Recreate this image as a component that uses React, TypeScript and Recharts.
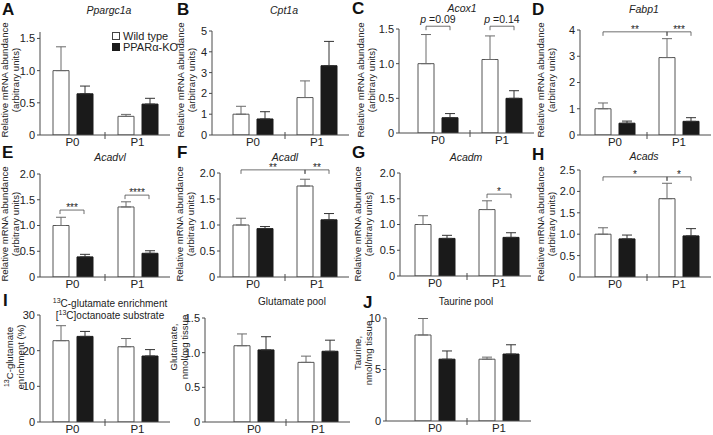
import React from 'react'
import { BarChart, Bar, XAxis, YAxis, ErrorBar, ReferenceLine } from 'recharts'

const FONT = '"Liberation Sans", Arial, Helvetica, sans-serif'
const INK = '#222'
const AXIS = '#4a4a4a'
const BAR = 16
const GAP = 8
const TOP_M = 26

const groups = ['P0', 'P1']

// A  Ppargc1a
const ppargc1aWT = [1.0, 0.29]
const ppargc1aWTSem = [0.37, 0.03]
const ppargc1aKO = [0.64, 0.48]
const ppargc1aKOSem = [0.12, 0.09]
const ppargc1aTicks = [0, 0.5, 1, 1.5]

// B  Cpt1a
const cpt1aWT = [1.0, 1.8]
const cpt1aWTSem = [0.38, 0.8]
const cpt1aKO = [0.77, 3.33]
const cpt1aKOSem = [0.35, 1.17]
const cpt1aTicks = [0, 1, 2, 3, 4, 5]

// C  Acox1
const acox1WT = [1.0, 1.06]
const acox1WTSem = [0.42, 0.34]
const acox1KO = [0.22, 0.5]
const acox1KOSem = [0.06, 0.11]
const acox1Ticks = [0, 0.5, 1, 1.5]

// D  Fabp1
const fabp1WT = [1.0, 2.95]
const fabp1WTSem = [0.22, 0.72]
const fabp1KO = [0.45, 0.52]
const fabp1KOSem = [0.08, 0.14]
const fabp1Ticks = [0, 1, 2, 3, 4]

// E  Acadvl
const acadvlWT = [1.0, 1.36]
const acadvlWTSem = [0.16, 0.1]
const acadvlKO = [0.39, 0.46]
const acadvlKOSem = [0.05, 0.05]

// F  Acadl
const acadlWT = [1.0, 1.75]
const acadlWTSem = [0.13, 0.13]
const acadlKO = [0.93, 1.1]
const acadlKOSem = [0.04, 0.12]

// G  Acadm
const acadmWT = [1.0, 1.29]
const acadmWTSem = [0.17, 0.17]
const acadmKO = [0.73, 0.75]
const acadmKOSem = [0.06, 0.09]

const twoTicks = [0, 0.5, 1, 1.5, 2]

// H  Acads
const acadsWT = [1.0, 1.83]
const acadsWTSem = [0.15, 0.36]
const acadsKO = [0.89, 0.96]
const acadsKOSem = [0.09, 0.17]
const acadsTicks = [0, 0.5, 1, 1.5, 2, 2.5]

// I  13C-glutamate enrichment
const enrichWT = [22.8, 21.1]
const enrichWTSem = [4.2, 2.3]
const enrichKO = [24.0, 18.5]
const enrichKOSem = [1.4, 1.8]
const enrichTicks = [0, 10, 20, 30]

// glutamate pool
const gluWT = [1.1, 0.86]
const gluWTSem = [0.17, 0.09]
const gluKO = [1.04, 1.02]
const gluKOSem = [0.19, 0.16]
const gluTicks = [0, 0.5, 1, 1.5]

// J  taurine pool
const taurineWT = [8.35, 6.0]
const taurineWTSem = [1.6, 0.2]
const taurineKO = [6.0, 6.5]
const taurineKOSem = [0.8, 0.9]
const taurineTicks = [0, 5, 10]

type Bracket = { from: string; to: string; y: number; text: string }

const acox1Brackets: Bracket[] = [
  { from: 'wt0', to: 'ko0', y: 1.54, text: 'p =0.09' },
  { from: 'wt1', to: 'ko1', y: 1.54, text: 'p =0.14' },
]
const fabp1Brackets: Bracket[] = [
  { from: 'wt0', to: 'wt1', y: 3.93, text: '**' },
  { from: 'wt1', to: 'ko1', y: 3.93, text: '***' },
]
const acadvlBrackets: Bracket[] = [
  { from: 'wt0', to: 'ko0', y: 1.3, text: '***' },
  { from: 'wt1', to: 'ko1', y: 1.59, text: '****' },
]
const acadlBrackets: Bracket[] = [
  { from: 'wt0', to: 'wt1', y: 2.06, text: '**' },
  { from: 'wt1', to: 'ko1', y: 2.06, text: '**' },
]
const acadmBrackets: Bracket[] = [{ from: 'wt1', to: 'ko1', y: 1.59, text: '*' }]
const acadsBrackets: Bracket[] = [
  { from: 'wt0', to: 'wt1', y: 2.34, text: '*' },
  { from: 'wt1', to: 'ko1', y: 2.34, text: '*' },
]

type PanelCfg = {
  wt: number[]
  wtSem: number[]
  ko: number[]
  koSem: number[]
  ticks: number[]
  dec: number
  yMax: number
  brackets: Bracket[]
  axisX: number
  padL: number
  plotW: number
  plotTop: number
  plotBottom: number
}

const panels: PanelCfg[] = [
  { wt: ppargc1aWT, wtSem: ppargc1aWTSem, ko: ppargc1aKO, koSem: ppargc1aKOSem, ticks: ppargc1aTicks, dec: 1, yMax: 1.6, brackets: [], axisX: 40, padL: 0, plotW: 130, plotTop: 32, plotBottom: 135 },
  { wt: cpt1aWT, wtSem: cpt1aWTSem, ko: cpt1aKO, koSem: cpt1aKOSem, ticks: cpt1aTicks, dec: 0, yMax: 5, brackets: [], axisX: 212, padL: 9, plotW: 137, plotTop: 31, plotBottom: 135 },
  { wt: acox1WT, wtSem: acox1WTSem, ko: acox1KO, koSem: acox1KOSem, ticks: acox1Ticks, dec: 1, yMax: 1.5, brackets: acox1Brackets, axisX: 399, padL: 7, plotW: 135, plotTop: 29, plotBottom: 133 },
  { wt: fabp1WT, wtSem: fabp1WTSem, ko: fabp1KO, koSem: fabp1KOSem, ticks: fabp1Ticks, dec: 0, yMax: 4, brackets: fabp1Brackets, axisX: 580, padL: 3, plotW: 131, plotTop: 30, plotBottom: 135 },
  { wt: acadvlWT, wtSem: acadvlWTSem, ko: acadvlKO, koSem: acadvlKOSem, ticks: twoTicks, dec: 1, yMax: 2, brackets: acadvlBrackets, axisX: 40, padL: 0, plotW: 130, plotTop: 174, plotBottom: 277 },
  { wt: acadlWT, wtSem: acadlWTSem, ko: acadlKO, koSem: acadlKOSem, ticks: twoTicks, dec: 1, yMax: 2, brackets: acadlBrackets, axisX: 220, padL: 1, plotW: 129, plotTop: 173, plotBottom: 277 },
  { wt: acadmWT, wtSem: acadmWTSem, ko: acadmKO, koSem: acadmKOSem, ticks: twoTicks, dec: 1, yMax: 2, brackets: acadmBrackets, axisX: 400, padL: 3, plotW: 131, plotTop: 173, plotBottom: 276 },
  { wt: acadsWT, wtSem: acadsWTSem, ko: acadsKO, koSem: acadsKOSem, ticks: acadsTicks, dec: 1, yMax: 2.5, brackets: acadsBrackets, axisX: 580, padL: 3, plotW: 131, plotTop: 170, plotBottom: 277 },
  { wt: enrichWT, wtSem: enrichWTSem, ko: enrichKO, koSem: enrichKOSem, ticks: enrichTicks, dec: 0, yMax: 30, brackets: [], axisX: 40, padL: 0, plotW: 130, plotTop: 315, plotBottom: 422 },
  { wt: gluWT, wtSem: gluWTSem, ko: gluKO, koSem: gluKOSem, ticks: gluTicks, dec: 1, yMax: 1.5, brackets: [], axisX: 205, padL: 17, plotW: 145, plotTop: 318, plotBottom: 422 },
  { wt: taurineWT, wtSem: taurineWTSem, ko: taurineKO, koSem: taurineKOSem, ticks: taurineTicks, dec: 0, yMax: 10, brackets: [], axisX: 386, padL: 17, plotW: 145, plotTop: 318, plotBottom: 421 },
]

function BracketText({ x, y, text }: { x: number; y: number; text: string }) {
  const isP = text.startsWith('p')
  return (
    <text
      x={x}
      y={isP ? y - 3 : y + 1}
      textAnchor="middle"
      fontSize={isP ? 10.5 : 10}
      fill={INK}
      stroke="none"
      fontFamily={FONT}
    >
      {isP ? (
        <>
          <tspan fontStyle="italic">p</tspan>
          {text.slice(1)}
        </>
      ) : (
        text
      )}
    </text>
  )
}

function Panel({ p }: { p: PanelCfg }) {
  const plotH = p.plotBottom - p.plotTop
  const data = groups.map((g, i) => ({
    g,
    wt: p.wt[i],
    ko: p.ko[i],
    wtErr: [0, p.wtSem[i]],
    koErr: [0, p.koSem[i]],
  }))
  // where a bar's centre sits, measured from the start of the P0 band
  const band = (p.plotW - p.padL) / 2
  const inner = Math.floor((band - (2 * BAR + GAP)) / 2)
  const barMid = (k: string) =>
    Number(k[2]) * band + inner + BAR / 2 + (k.startsWith('ko') ? BAR + GAP : 0)

  return (
    <div style={{ position: 'absolute', left: p.axisX - 40, top: p.plotTop - TOP_M }}>
      <BarChart
        width={40 + p.plotW + 3}
        height={TOP_M + plotH + 22}
        data={data}
        margin={{ top: TOP_M, right: 3, bottom: 0, left: 0 }}
        barSize={BAR}
        barGap={GAP}
      >
        <XAxis
          dataKey="g"
          interval={0}
          tickLine={false}
          axisLine={{ stroke: AXIS }}
          tickSize={2}
          tickMargin={1}
          height={22}
          padding={{ left: p.padL, right: 0 }}
          tick={{ fontSize: 11.5, fill: INK, fontFamily: FONT }}
        />
        <YAxis
          type="number"
          domain={[0, p.yMax]}
          ticks={p.ticks}
          interval={0}
          allowDataOverflow
          width={40}
          tickSize={3}
          tickMargin={2}
          axisLine={{ stroke: AXIS }}
          tickLine={{ stroke: AXIS }}
          tick={{ fontSize: 11, fill: INK, fontFamily: FONT }}
          tickFormatter={(v: number) => (v === 0 ? '0' : v.toFixed(p.dec))}
        />
        <Bar dataKey="wt" fill="#fff" stroke="#555" strokeWidth={1} isAnimationActive={false}>
          <ErrorBar dataKey="wtErr" width={5} stroke="#6a6a6a" strokeWidth={1} direction="y" isAnimationActive={false} />
        </Bar>
        <Bar dataKey="ko" fill="#1a1a1a" stroke="#1a1a1a" strokeWidth={1} isAnimationActive={false}>
          <ErrorBar dataKey="koErr" width={5} stroke="#333" strokeWidth={1} direction="y" isAnimationActive={false} />
        </Bar>
        {/* small break mark between the two age groups */}
        <ReferenceLine
          x="P0"
          position="end"
          ifOverflow="visible"
          shape={(s: any) => {
            const bot = Math.max(s.y1, s.y2)
            return <line x1={s.x1} x2={s.x1} y1={bot - 3} y2={bot + 4} stroke={AXIS} strokeWidth={1} />
          }}
        />
        {p.brackets.map((b, i) => (
          <ReferenceLine
            key={i}
            x="P0"
            position="start"
            ifOverflow="visible"
            shape={(s: any) => {
              const top = Math.min(s.y1, s.y2)
              const bot = Math.max(s.y1, s.y2)
              const y = bot - (b.y / p.yMax) * (bot - top)
              const xa = s.x1 + barMid(b.from)
              const xb = s.x1 + barMid(b.to)
              return (
                <g>
                  <path
                    d={`M${xa},${y + 4}V${y}H${xb}V${y + 4}`}
                    fill="none"
                    stroke={AXIS}
                    strokeWidth={0.8}
                  />
                  <BracketText x={(xa + xb) / 2} y={y} text={b.text} />
                </g>
              )
            }}
          />
        ))}
      </BarChart>
    </div>
  )
}

const letters: [string, number, number][] = [
  ['A', 2, 15], ['B', 177, 15], ['C', 352, 14], ['D', 532, 15],
  ['E', 2, 158], ['F', 177, 158], ['G', 352, 158], ['H', 532, 160],
  ['I', 3, 306], ['J', 363, 308],
]

const geneTitles: [string, number, number][] = [
  ['Ppargc1a', 109, 14], ['Cpt1a', 284, 14], ['Acox1', 462, 12], ['Fabp1', 644, 13],
  ['Acadvl', 110, 161], ['Acadl', 285, 161], ['Acadm', 466, 161], ['Acads', 644, 160],
]

const mrnaLabelPos: [number, number][] = [
  [8, 80], [184, 80], [364, 80], [544, 80],
  [8, 224], [183, 224], [361, 224], [544, 224],
]

function YLabel({ x, y, lines }: { x: number; y: number; lines: React.ReactNode[] }) {
  return (
    <>
      {lines.map((l, i) => (
        <text key={i} transform={`translate(${x + i * 11},${y}) rotate(-90)`} textAnchor="middle" fontSize={9.6} fill={INK}>
          {l}
        </text>
      ))}
    </>
  )
}

const sup13 = (
  <>
    <tspan fontSize={7} dy={-4}>13</tspan>
    <tspan dy={4}>C</tspan>
  </>
)

export default function App() {
  return (
    <div style={{ position: 'absolute', left: 0, top: 0, width: 713, height: 435, background: '#fff', overflow: 'hidden', fontFamily: FONT }}>
      {panels.map((p, i) => (
        <Panel key={i} p={p} />
      ))}
      <svg width={713} height={435} style={{ position: 'absolute', left: 0, top: 0, pointerEvents: 'none' }} fontFamily={FONT}>
        {letters.map(([t, x, y]) => (
          <text key={t} x={x} y={y} fontSize={17} fontWeight="bold" fill="#111">
            {t}
          </text>
        ))}
        {geneTitles.map(([t, x, y]) => (
          <text key={t} x={x} y={y} fontSize={10.5} fontStyle="italic" textAnchor="middle" fill={INK}>
            {t}
          </text>
        ))}
        {mrnaLabelPos.map(([x, y], i) => (
          <YLabel key={i} x={x} y={y} lines={['Relative mRNA abundance', '(arbitrary units)']} />
        ))}
        <YLabel x={13} y={357} lines={[<>{sup13}-glutamate</>, 'enrichment (%)']} />
        <YLabel x={177} y={347} lines={['Glutamate,', 'nmol/mg tissue']} />
        <YLabel x={361} y={353} lines={['Taurine,', 'nmol/mg tissue']} />

        <text x={110} y={307} fontSize={10} textAnchor="middle" fill={INK}>
          {sup13}-glutamate enrichment
        </text>
        <text x={110} y={319} fontSize={10} textAnchor="middle" fill={INK}>
          [{sup13}]octanoate substrate
        </text>
        <text x={292} y={305} fontSize={10} textAnchor="middle" fill={INK}>
          Glutamate pool
        </text>
        <text x={466} y={305} fontSize={10} textAnchor="middle" fill={INK}>
          Taurine pool
        </text>

        <rect x={112.5} y={32.5} width={7} height={7} fill="#fff" stroke="#444" />
        <text x={123} y={39.5} fontSize={11} fill={INK}>
          Wild type
        </text>
        <rect x={112.5} y={43.5} width={7} height={7} fill="#1a1a1a" stroke="#1a1a1a" />
        <text x={123} y={50.5} fontSize={11} fill={INK}>
          PPARα-KO
        </text>
      </svg>
    </div>
  )
}
